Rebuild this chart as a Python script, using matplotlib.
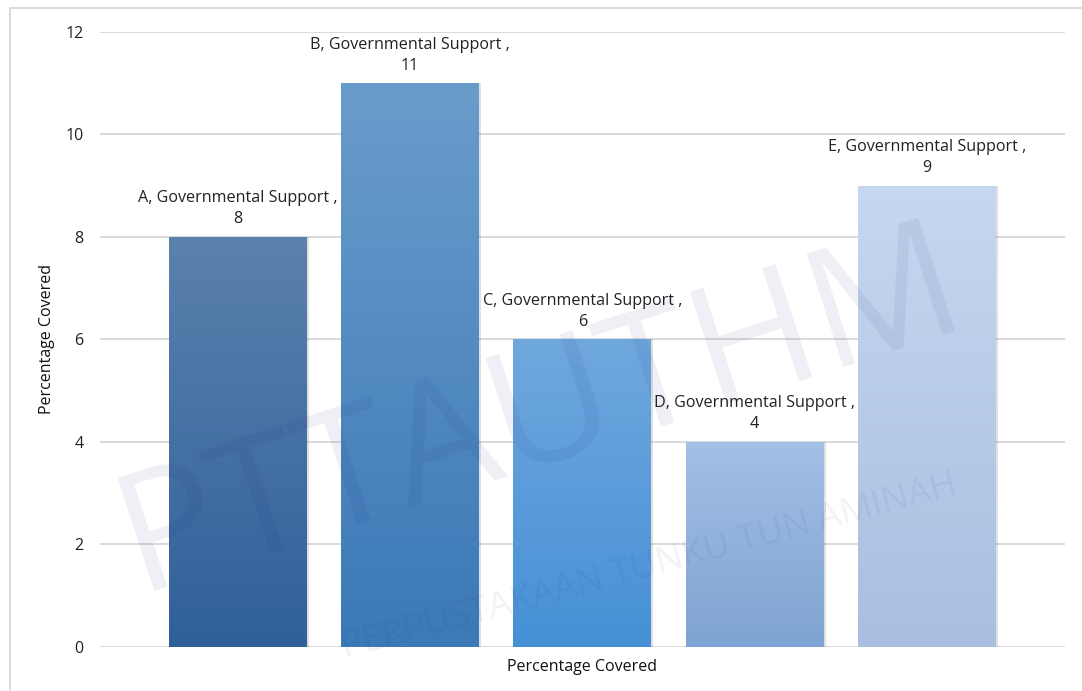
import numpy as np
import matplotlib
matplotlib.use('Agg')
import matplotlib.pyplot as plt
from matplotlib.patches import Rectangle
from matplotlib.colors import LinearSegmentedColormap

plt.rcParams['font.family'] = ['Open Sans', 'DejaVu Sans']

# data
categories = ["A", "B", "C", "D", "E"]
series_name = "Governmental Support"
values = [8, 11, 6, 4, 9]
yticks = [0, 2, 4, 6, 8, 10, 12]

# gradient colours per bar (top, bottom)
bar_colors = [("#5b81ad", "#30609a"),
              ("#6a9ccb", "#3b79b7"),
              ("#70a8de", "#4690d6"),
              ("#a3c0e6", "#7fa3d2"),
              ("#c6d8ef", "#a8bfe1")]

fig = plt.figure(figsize=(10.82, 6.91), dpi=100)
ax = fig.add_axes([0.0924, 0.0637, 0.8916, 0.89])

x = np.arange(len(categories))
bars = ax.bar(x, values, width=0.8, color="none", zorder=2)

grad = np.linspace(0, 1, 256).reshape(-1, 1)
for b, (ctop, cbot) in zip(bars, bar_colors):
    x0, w, h = b.get_x(), b.get_width(), b.get_height()
    # soft shadow on the right
    ax.add_patch(Rectangle((x0 + 0.012, 0), w, h, color="#000000", alpha=0.12,
                           lw=0, zorder=1.5))
    cmap = LinearSegmentedColormap.from_list("g", [ctop, cbot])
    im = ax.imshow(grad, cmap=cmap, aspect="auto", extent=[x0, x0 + w, 0, h],
                   zorder=2)
    im.set_clip_path(b)

for xi, v, cat in zip(x, values, categories):
    ax.annotate("%s, %s ,\n%d" % (cat, series_name, v), (xi, v),
                xytext=(0, 7), textcoords="offset points",
                ha="center", va="bottom", fontsize=11.6, color="#222222",
                linespacing=1.4, zorder=4)

ax.set_xlim(-0.8, 4.8)
ax.set_ylim(0, 12)
ax.set_yticks(yticks)
ax.set_xticks([])
ax.tick_params(axis="y", length=0, pad=12, labelsize=11.5, labelcolor="#222222")
ax.grid(axis="y", color="#d9d9d9", lw=1.4, zorder=0)
ax.set_axisbelow(True)
for s in ax.spines.values():
    s.set_visible(False)

ax.set_ylabel("Percentage Covered", fontsize=11.5, labelpad=7, color="#111111")
ax.set_xlabel("Percentage Covered", fontsize=11.5, labelpad=9, color="#111111")

# frame around the chart
fig.patches.append(Rectangle((10 / 1082, -0.01), 1.1, 1 - 8 / 691 + 0.01,
                             transform=fig.transFigure, fill=False,
                             ec="#d4d4d4", lw=1.2))

# faint library watermark
fig.text(0.5, 0.4, "PTTAUTHM", fontsize=120, color="#1a237e", alpha=0.07,
         rotation=18, ha="center", va="center", zorder=5)
fig.text(0.6, 0.18, "PERPUSTAKAAN TUNKU TUN AMINAH", fontsize=26,
         color="#1a237e", alpha=0.06, rotation=15, ha="center", va="center",
         zorder=5)

fig.savefig("out.png", dpi=100)
